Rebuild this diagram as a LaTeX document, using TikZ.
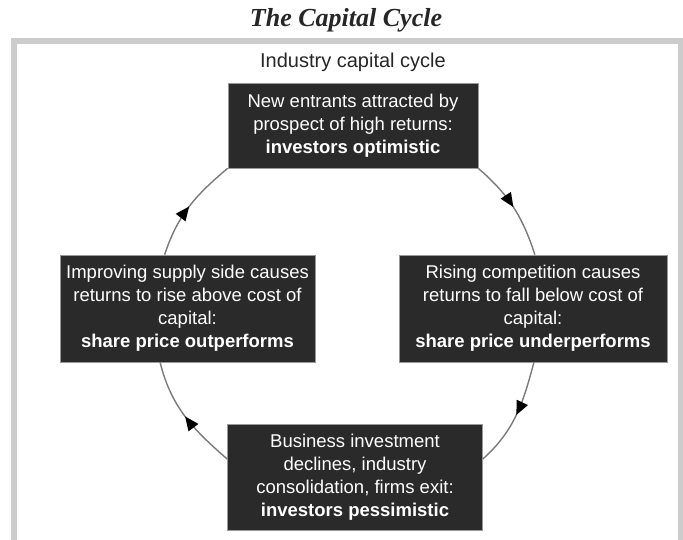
\documentclass[tikz,border=0pt]{standalone}
\usepackage{fontspec}
\setmainfont{Liberation Sans}
\newfontfamily\titlefont{Liberation Serif}
\usetikzlibrary{arrows.meta,decorations.markings}

\definecolor{boxgrey}{HTML}{2A2A2A}
\definecolor{framegrey}{HTML}{CCCCCC}
\definecolor{ringgrey}{HTML}{7A7A7A}

\begin{document}
\begin{tikzpicture}[
    x=1pt, y=1pt,
    every node/.style={font=\fontsize{18.5}{23}\selectfont, align=center, inner sep=0pt},
    stage/.style={rectangle, draw=black!40, line width=0.6pt, fill=boxgrey, text=white},
    cyc/.style={draw=ringgrey, line width=1.4pt, postaction={decorate},
        decoration={markings, mark=at position 0.5 with {\arrow{Triangle[length=14pt, width=12pt, color=black]}}}},
]
  \useasboundingbox (0,0) rectangle (683,539);
  \draw [framegrey, line width=6pt] (14,498) rectangle (681,-20);

  \node [font=\titlefont\fontsize{26}{30}\selectfont\bfseries\itshape, anchor=base, text=black!85]
        (title) at (346,512) {The Capital Cycle};
  \node [font=\fontsize{20}{24}\selectfont, anchor=base, text=black!85]
        (head)  at (353,471.5) {Industry capital cycle};

  \node [stage, minimum width=250pt, minimum height=85pt]  (entry) at (353,413.5)
        {New entrants attracted by\\prospect of high returns:\\\textbf{investors optimistic}};
  \node [stage, minimum width=268pt, minimum height=107pt] (fall)  at (533,230.5)
        {Rising competition causes\\returns to fall below cost of\\capital:\\\textbf{share price underperforms}};
  \node [stage, minimum width=255pt, minimum height=106pt] (exit)  at (355,62)
        {Business investment\\declines, industry\\consolidation, firms exit:\\\textbf{investors pessimistic}};
  \node [stage, minimum width=255pt, minimum height=107pt] (rise)  at (187.5,230.5)
        {Improving supply side causes\\returns to rise above cost of\\capital:\\\textbf{share price outperforms}};

  % clockwise ring between the four stages
  \draw [cyc] (rise.113)         to [out=72,  in=220] (entry.south west);
  \draw [cyc] (entry.south east) to [out=-41, in=108] (fall.88);
  \draw [cyc] (fall.271)         to [out=255, in=42]  (exit.8);
  \draw [cyc] (exit.172)         to [out=139, in=-76] (rise.243);
\end{tikzpicture}
\end{document}
